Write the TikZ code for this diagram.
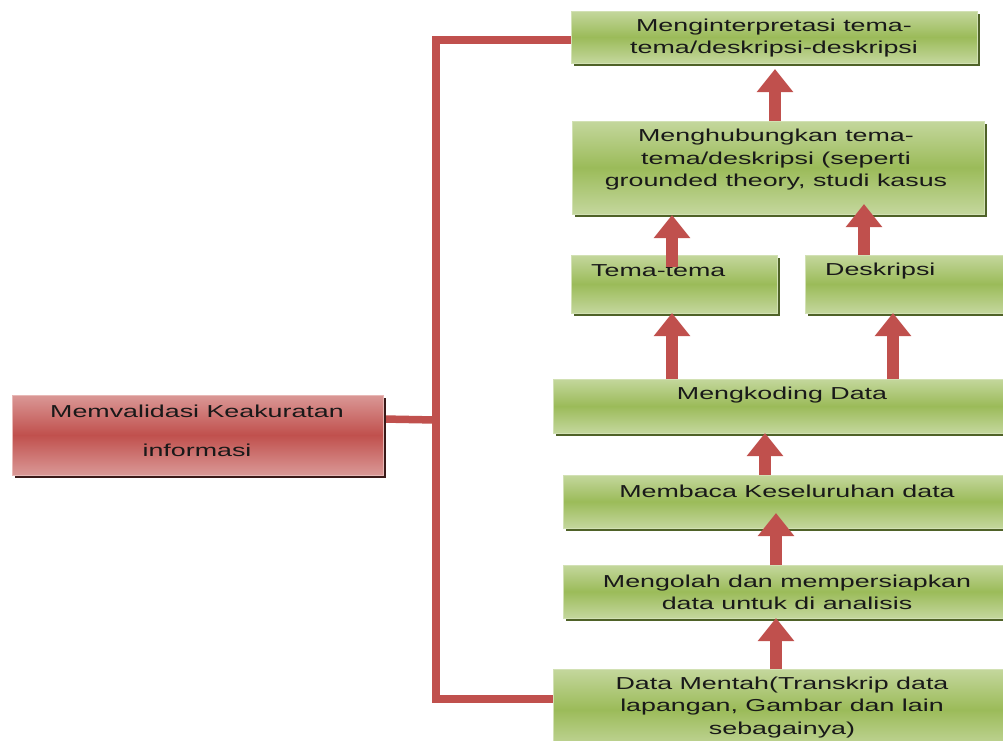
\documentclass[tikz,border=0pt]{standalone}
\usepackage{fontspec}
\setmainfont{Liberation Sans}[FakeStretch=1.55]
\usetikzlibrary{arrows.meta,shadows,backgrounds}
\definecolor{gmid}{HTML}{9BBB59}
\definecolor{glight}{HTML}{C4D79D}
\definecolor{gedge}{HTML}{D2E1B4}
\definecolor{gshadow}{HTML}{4F6228}
\definecolor{rmid}{HTML}{C0504D}
\definecolor{rlight}{HTML}{DA9896}
\definecolor{redge}{HTML}{E8B8B6}
\definecolor{rshadow}{HTML}{3A1A19}
\definecolor{connred}{HTML}{C0504D}
\begin{document}
\begin{tikzpicture}[x=1pt,y=-1pt,
  gbox/.style={draw=gedge, line width=1pt, top color=glight, bottom color=glight, middle color=gmid,
    inner sep=0pt, outer sep=0pt,
    drop shadow={shadow xshift=3pt,shadow yshift=-3pt,fill=gshadow,opacity=1}},
  rbox/.style={draw=redge, line width=1pt, top color=rlight, bottom color=rlight, middle color=rmid,
    inner sep=0pt, outer sep=0pt,
    drop shadow={shadow xshift=3pt,shadow yshift=-3pt,fill=rshadow,opacity=1}},
  txt/.style={font=\fontsize{17.3}{22.5}\selectfont, align=center, inner sep=0pt, text=black!90},
  conn/.style={draw=connred, line width=7.5pt, line join=miter},
  barrow/.style={draw=connred, line width=12pt, -{Triangle[width=35pt,length=23pt]}}
]
\useasboundingbox (0,0) rectangle (1003,740);

% connector coordinates
\coordinate (bt) at (436,40);
\coordinate (bb) at (436,699);
\coordinate (jr) at (436,420);

% boxes
\path (774,37) node[gbox, minimum width=406pt, minimum height=52pt] (interp) {};
\path (778,167.5) node[gbox, minimum width=412pt, minimum height=93pt] (hub) {};
\path (674,284) node[gbox, minimum width=206pt, minimum height=58pt] (tema) {};
\path (907.5,284) node[gbox, minimum width=205pt, minimum height=58pt] (desk) {};
\path (781.5,406) node[gbox, minimum width=457pt, minimum height=54pt] (kod) {};
\path (786.5,501.5) node[gbox, minimum width=447pt, minimum height=53pt] (baca) {};
\path (786.5,591.5) node[gbox, minimum width=447pt, minimum height=53pt] (olah) {};
\path (781.5,709.5) node[gbox, minimum width=457pt, minimum height=81pt] (mentah) {};
\path (197.5,435) node[rbox, minimum width=371pt, minimum height=80pt] (valid) {};

% connectors (behind boxes)
\begin{scope}[on background layer]
\fill[white] (0,0) rectangle (1003,740);
\draw[conn] (bt -| interp.west) -- (bt) -- (bb) -- (bb -| mentah.west);
\draw[conn] ([yshift=16pt]valid.east) -- (jr);
\end{scope}

% texts
\node[txt] (t-interp) at (774,38) {Menginterpretasi tema-\\tema/deskripsi-deskripsi};
\node[txt] (t-hub) at (776,160) {Menghubungkan tema-\\tema/deskripsi (seperti\\grounded theory, studi kasus};
\node[txt, anchor=west] (t-tema) at (591,271) {Tema-tema};
\node[txt, anchor=west] (t-desk) at (825,271) {Deskripsi};
\node[txt] (t-kod) at (782,395) {Mengkoding Data};
\node[txt] (t-baca) at (787,491) {Membaca Keseluruhan data};
\node[txt] (t-olah) at (787,592.5) {Mengolah dan mempersiapkan\\data untuk di analisis};
\node[txt] (t-mentah) at (782,707.5) {Data Mentah(Transkrip data\\lapangan, Gambar dan lain\\sebagainya)};
\node[txt, font=\fontsize{17.3}{39}\selectfont] (t-valid) at (197,430.5) {Memvalidasi Keakuratan\\informasi};

% block arrows
\draw[barrow, shorten >=6pt] ([xshift=-3pt]hub.north) -- ([xshift=1pt]interp.south);
\draw[barrow, shorten >=1pt] ([xshift=-2pt,yshift=-12pt]tema.north) -- ([xshift=-106pt]hub.south);
\draw[barrow] ([xshift=-43.5pt]desk.north) -- ([xshift=86pt,yshift=10pt]hub.south);
\draw[barrow] ([xshift=-109.5pt]kod.north) -- ([xshift=-2pt]tema.south);
\draw[barrow] ([xshift=111.5pt]kod.north) -- ([xshift=-14.5pt]desk.south);
\draw[barrow] ([xshift=-21.5pt]baca.north) -- ([xshift=-16.5pt]kod.south);
\draw[barrow] ([xshift=-10.5pt]olah.north) -- ([xshift=-10.5pt,yshift=15pt]baca.south);
\draw[barrow] ([xshift=-5.5pt]mentah.north) -- ([xshift=-10.5pt]olah.south);
\end{tikzpicture}
\end{document}
